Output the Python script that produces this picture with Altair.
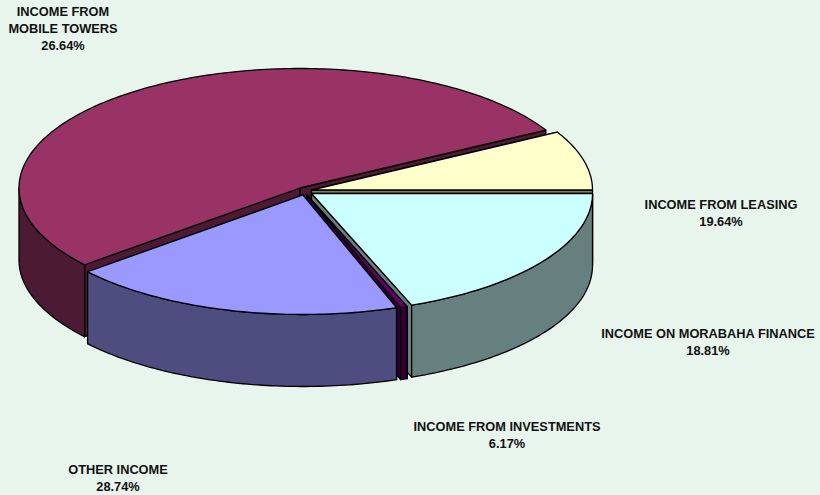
import math
import altair as alt

# Pie slices in drawing order, clockwise from due east.
# Swept share of each slice as drawn (these differ from the printed percentages).
drawn_shares = [19.2, 0.4, 19.3, 53.05, 8.05]
share_order = ["MORABAHA", "INVESTMENTS", "OTHER", "TOWERS", "LEASING"]

top_colors = {"TOWERS": "#993366", "LEASING": "#FFFFCC", "MORABAHA": "#CCFFFF",
              "INVESTMENTS": "#660066", "OTHER": "#9999FF"}
wall_colors = {"TOWERS": "#4D1A33", "LEASING": "#808066", "MORABAHA": "#668080",
               "INVESTMENTS": "#330033", "OTHER": "#4D4D80"}

label_lines = [
    "INCOME FROM\nMOBILE TOWERS\n26.64%",
    "INCOME FROM LEASING\n19.64%",
    "INCOME ON MORABAHA FINANCE\n18.81%",
    "INCOME FROM INVESTMENTS\n6.17%",
    "OTHER INCOME\n28.74%",
]

# Pie geometry: centre, radii, thickness and how far each slice is pulled out.
CX, CY, RX, RY, DEPTH = 304, 190.5, 281, 119.5, 72
pull = {"TOWERS": (-4, -2.5), "LEASING": (7.5, -0.5), "MORABAHA": (7.5, 3),
        "INVESTMENTS": (3, 4.5), "OTHER": (-1, 4.5)}
paint_order = ["TOWERS", "LEASING", "MORABAHA", "INVESTMENTS", "OTHER"]
label_anchor = [(63, 12), (721, 205), (708, 334), (507, 427), (118, 470)]

# Start and end angle of each slice from its share.
spans, start = {}, 0.0
for name, share in zip(share_order, drawn_shares):
    spans[name] = (start, start + share * 3.6)
    start += share * 3.6


def rim(name, a0, a1, drop=0.0):
    dx, dy = pull[name]
    n = max(2, int(abs(a1 - a0)) + 2)
    pts = []
    for i in range(n):
        t = math.radians(a0 + (a1 - a0) * i / (n - 1))
        pts.append([CX + dx + RX * math.cos(t), CY + dy + RY * math.sin(t) + drop])
    return pts


def poly(points, color):
    ring = points + [points[0]]
    return {"type": "Feature", "properties": {"fill": color},
            "geometry": {"type": "Polygon", "coordinates": [ring]}}


features = []
for name in paint_order:
    a0, a1 = spans[name]
    dx, dy = pull[name]
    apex = [CX + dx, CY + dy]
    apex_low = [apex[0], apex[1] + DEPTH]
    # Cut faces of the slice.
    for a in (a0, a1):
        edge = rim(name, a, a, 0)[0]
        features.append(poly([apex, edge, [edge[0], edge[1] + DEPTH], apex_low],
                             wall_colors[name]))
    # Outer wall on the near half of the ellipse only.
    lo, hi = max(a0, 0.0), min(a1, 180.0)
    if hi > lo:
        features.append(poly(rim(name, lo, hi) + rim(name, hi, lo, DEPTH),
                             wall_colors[name]))
    # Top face.
    features.append(poly([apex] + rim(name, a0, a1), top_colors[name]))

pie = (
    alt.Chart(alt.Data(values=features))
    .mark_geoshape(stroke="#000000", strokeWidth=1.3, strokeJoin="round")
    .encode(fill=alt.Fill("properties.fill:N", scale=None))
    .project(type="identity", scale=1, translate=[0, 0])
)

labels = [
    alt.Chart(alt.Data(values=[{"label": text}]))
    .mark_text(font="Liberation Sans", fontSize=12.8, fontWeight="bold",
               color="#111111", align="center", baseline="middle",
               lineBreak="\n", lineHeight=17)
    .encode(text="label:N", x=alt.value(x), y=alt.value(y))
    for text, (x, y) in zip(label_lines, label_anchor)
]

chart = (
    alt.layer(pie, *labels)
    .properties(width=820, height=495, background="#E8F5EC", padding=0,
                autosize=alt.AutoSizeParams(type="none"))
    .configure_view(stroke=None)
)

chart.save("out.html", embed_options={"renderer": "svg", "actions": False})
